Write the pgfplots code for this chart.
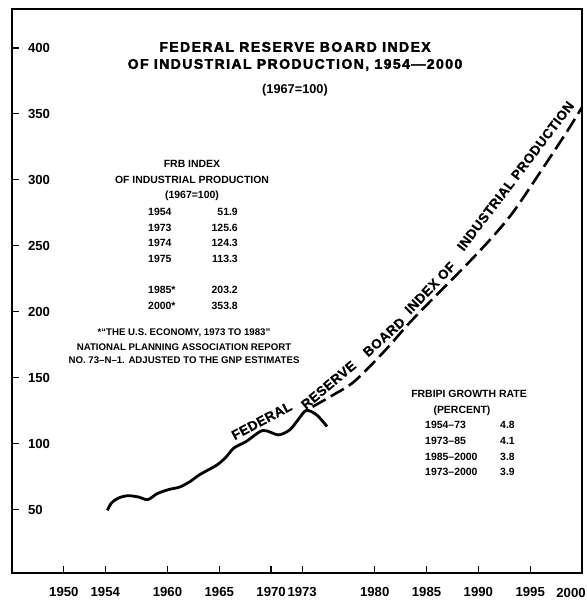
\documentclass[border=0pt]{standalone}
\usepackage{fontspec}
\setmainfont{Liberation Sans}
\newfontfamily\titlefont{Liberation Sans}[LetterSpace=10.5, BoldFeatures={FakeBold=2.5}]
\newfontfamily\curvefont{Liberation Sans}[LetterSpace=3, BoldFeatures={FakeBold=0.8}]
\usepackage{pgfplots}
\pgfplotsset{compat=1.18}
\begin{document}
\begin{tikzpicture}[x=1bp,y=1bp]
\useasboundingbox (-12,-31) rectangle (575,573);
\begin{axis}[
  at={(0,0)}, anchor=south west,
  width=570bp, height=564bp, scale only axis,
  xmin=1945, xmax=2000, ymin=2, ymax=429.5,
  axis line style={line width=1.6bp},
  xtick={1950,1954,1960,1965,1970,1973,1980,1985,1990,1995},
  xticklabels={1950,1954,1960,1965,1970,1973,1980,1985,1990,1995},
  ytick={50,100,150,200,250,300,350,400},
  xtick pos=left, ytick pos=left,
  tick align=inside,
  major tick length=7bp,
  every tick/.style={line width=1.2bp, black},
  tick label style={font=\bfseries\fontsize{13.2}{15}\selectfont},
  /pgf/number format/assume math mode=true,
  xticklabel style={yshift=-10.5bp},
  yticklabel style={anchor=west, xshift=12.5bp},
]
\addplot[smooth, line width=2.8bp, black] coordinates {
(1954.2,49.5) (1954.6,55.1) (1955.3,58.9) (1956.2,60.6) (1957.2,59.6)
(1958.1,57.6) (1959.0,62.1) (1960.1,65.2) (1961.2,67.2) (1962.2,71.4)
(1963.1,76.5) (1964.8,84.0) (1965.7,90.3) (1966.4,96.7) (1967.6,101.7)
(1969.2,110.0) (1970.7,106.7) (1971.8,110.5) (1972.6,118.1) (1973.4,125.2)
(1974.4,121.8) (1975.4,113.0)
};
\addplot[smooth, line width=2.6bp, black, dash pattern=on 15bp off 6bp] coordinates {
(1974.0,128) (1976,137) (1978,147) (1980.8,169) (1983.4,192) (1986,213)
(1988.9,236) (1991.4,257) (1993.4,276) (1995.9,305) (1998.5,336) (2000,355)
};
\end{axis}
% x label at the right edge
\node[font=\bfseries\fontsize{13.2}{15}\selectfont] at (559,-20) {2000};
% title
\node[font=\titlefont\bfseries\fontsize{14}{16}\selectfont] at (283,526) {FEDERAL RESERVE BOARD INDEX};
\node[font=\titlefont\bfseries\fontsize{14}{16}\selectfont] at (283,508) {OF INDUSTRIAL PRODUCTION, 1954—2000};
\node[font=\bfseries\fontsize{12.8}{14}\selectfont] at (283,483) {(1967=100)};
% FRB table
\begin{scope}[every node/.style={font=\bfseries\fontsize{10.5}{12}\selectfont}]
\node at (180,409) {FRB INDEX};
\node at (180,393) {OF INDUSTRIAL PRODUCTION};
\node at (180,377) {(1967=100)};
\node[anchor=west,inner sep=0] at (136,361) {1954};
\node[anchor=west,inner sep=0] at (136,345) {1973};
\node[anchor=west,inner sep=0] at (136,330) {1974};
\node[anchor=west,inner sep=0] at (136,314) {1975};
\node[anchor=west,inner sep=0] at (136,283) {1985*};
\node[anchor=west,inner sep=0] at (136,267) {2000*};
\node[anchor=east,inner sep=0] at (226,361) {51.9};
\node[anchor=east,inner sep=0] at (226,345) {125.6};
\node[anchor=east,inner sep=0] at (226,330) {124.3};
\node[anchor=east,inner sep=0] at (226,314) {113.3};
\node[anchor=east,inner sep=0] at (226,283) {203.2};
\node[anchor=east,inner sep=0] at (226,267) {353.8};
\end{scope}
\begin{scope}[every node/.style={font=\bfseries\fontsize{9.7}{11}\selectfont}]
\node at (172,240) {*“THE U.S. ECONOMY, 1973 TO 1983”};
\node at (172,226) {NATIONAL PLANNING ASSOCIATION REPORT};
\node at (172,213) {NO. 73–N–1. ADJUSTED TO THE GNP ESTIMATES};
\end{scope}
% growth table
\begin{scope}[every node/.style={font=\bfseries\fontsize{10.5}{12}\selectfont}]
\node at (457,179) {FRBIPI GROWTH RATE};
\node at (450,162) {(PERCENT)};
\node[anchor=west,inner sep=0] at (413,148) {1954–73};
\node[anchor=west,inner sep=0] at (413,132) {1973–85};
\node[anchor=west,inner sep=0] at (413,116) {1985–2000};
\node[anchor=west,inner sep=0] at (413,101) {1973–2000};
\node[anchor=west,inner sep=0] at (488,148) {4.8};
\node[anchor=west,inner sep=0] at (488,132) {4.1};
\node[anchor=west,inner sep=0] at (488,116) {3.8};
\node[anchor=west,inner sep=0] at (488,101) {3.9};
\end{scope}
% labels along the curve
\begin{scope}[every node/.style={font=\curvefont\bfseries\fontsize{13.5}{15}\selectfont}]
\node[rotate=28] at (249.7,152.3) {FEDERAL};
\node[rotate=40] at (316.5,188) {RESERVE};
\node[rotate=42] at (372,236) {BOARD};
\node[rotate=46] at (418,285) {INDEX OF};
\node[rotate=52.7] at (503.5,397) {INDUSTRIAL PRODUCTION};
\end{scope}
\end{tikzpicture}
\end{document}
